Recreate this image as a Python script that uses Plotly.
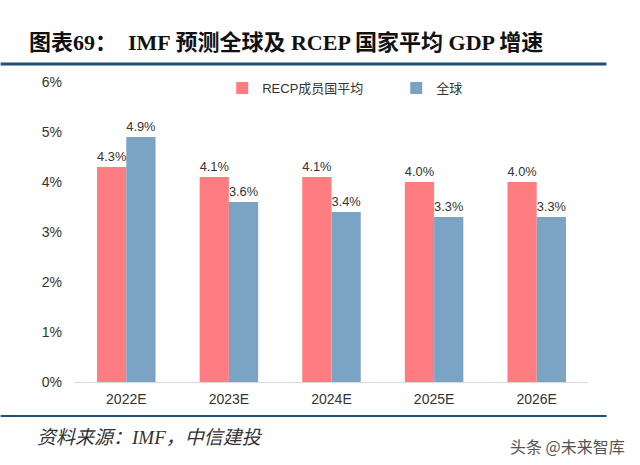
import plotly.graph_objects as go

categories = ["2022E", "2023E", "2024E", "2025E", "2026E"]
rcep_avg = [4.3, 4.1, 4.1, 4.0, 4.0]
world = [4.9, 3.6, 3.4, 3.3, 3.3]
series_names = ["RECP成员国平均", "全球"]
y_ticks = [0, 1, 2, 3, 4, 5, 6]
y_tick_labels = ["0%", "1%", "2%", "3%", "4%", "5%", "6%"]

title_text = "图表69：  IMF 预测全球及 RCEP 国家平均 GDP 增速"
source_text = "资料来源：IMF，中信建投"
watermark_text = "头条 @未来智库"

W, H = 640, 465
L, R, T, B = 74.5, 51.5, 82, 83
pw = W - L - R
ph = H - T - B

def px_x(x):
    return (x - L) / pw

def px_y(y):
    return (H - B - y) / ph

fig = go.Figure()
fig.add_trace(go.Bar(
    x=categories, y=rcep_avg, name=series_names[0],
    marker=dict(color="#FF7C80", line=dict(width=0)),
    text=rcep_avg, texttemplate="%{y:.1f}%", textposition="outside",
    textfont=dict(size=14, color="#333333"), cliponaxis=False,
))
fig.add_trace(go.Bar(
    x=categories, y=world, name=series_names[1],
    marker=dict(color="#7BA3C4", line=dict(width=0)),
    text=world, texttemplate="%{y:.1f}%", textposition="outside",
    textfont=dict(size=14, color="#333333"), cliponaxis=False,
))

fig.update_layout(
    width=W, height=H,
    margin=dict(l=L, r=R, t=T, b=B, pad=0),
    paper_bgcolor="white", plot_bgcolor="white",
    font=dict(family="Liberation Sans, Arial, Noto Sans CJK SC", size=14, color="#333333"),
    barmode="group", bargap=0.43, bargroupgap=0,
    showlegend=True,
    legend=dict(
        orientation="h", x=px_x(222), y=px_y(88), xanchor="left", yanchor="middle",
        font=dict(size=13, color="#333333"), entrywidth=129, entrywidthmode="pixels",
        bgcolor="rgba(0,0,0,0)", traceorder="normal",
    ),
    xaxis=dict(
        showgrid=False, showline=True, linecolor="#D9D9D9", linewidth=1,
        ticks="", tickfont=dict(size=14, color="#333333"), zeroline=False,
        ticklabelstandoff=4,
    ),
    yaxis=dict(
        range=[0, 6], tickvals=y_ticks, ticktext=y_tick_labels,
        showgrid=False, showline=False, zeroline=False, ticks="",
        tickfont=dict(size=14, color="#333333"), ticklabelstandoff=12,
    ),
)

# header and footer rules
fig.add_shape(type="line", xref="paper", yref="paper",
              x0=px_x(0), x1=px_x(607), y0=px_y(64), y1=px_y(64),
              line=dict(color="#1F4E79", width=3))
fig.add_shape(type="line", xref="paper", yref="paper",
              x0=px_x(0), x1=px_x(607), y0=px_y(416), y1=px_y(416),
              line=dict(color="#1F4E79", width=2))

fig.add_annotation(text="<b>" + title_text + "</b>", xref="paper", yref="paper",
                   x=px_x(26), y=px_y(42), xanchor="left", yanchor="middle",
                   showarrow=False,
                   font=dict(family="Liberation Serif, Noto Sans CJK SC", size=22, color="#111111"))
fig.add_annotation(text="<i>" + source_text + "</i>", xref="paper", yref="paper",
                   x=px_x(34), y=px_y(437), xanchor="left", yanchor="middle",
                   showarrow=False,
                   font=dict(family="Liberation Serif, Noto Sans CJK SC", size=19, color="#333333"))
fig.add_annotation(text=watermark_text, xref="paper", yref="paper",
                   x=px_x(628), y=px_y(446), xanchor="right", yanchor="middle",
                   showarrow=False,
                   font=dict(family="Noto Sans CJK SC", size=16, color="#555555"))

fig.write_html("out.html", config={"displayModeBar": False},
               post_script="document.body.style.margin='0';")
